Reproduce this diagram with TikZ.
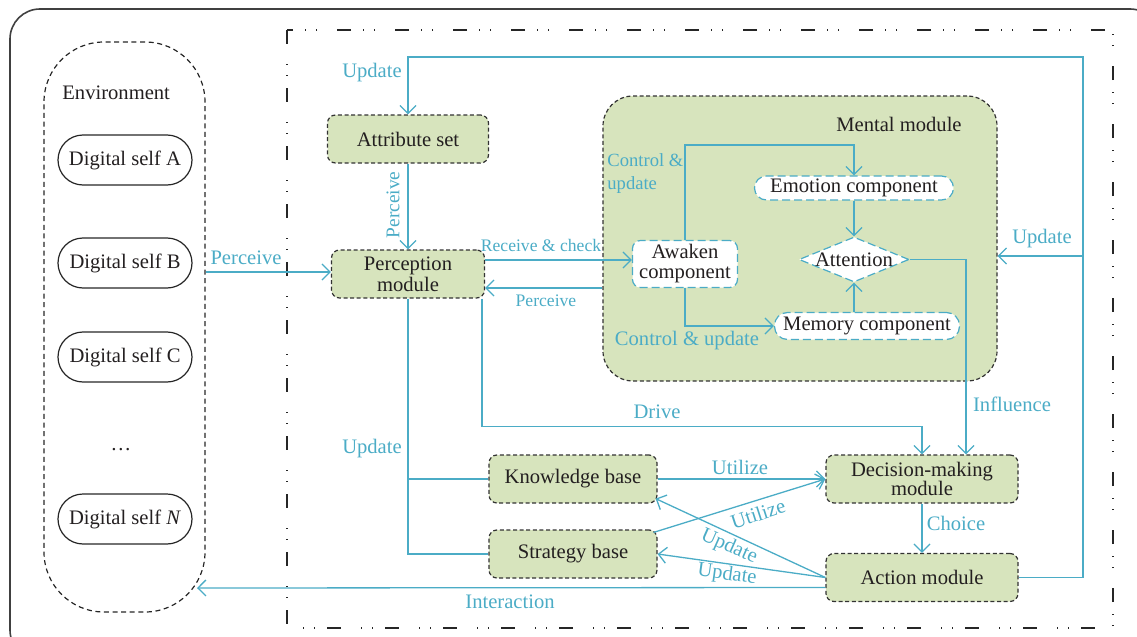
\documentclass[tikz,border=0pt]{standalone}
\usepackage{fontspec}
\setmainfont{Liberation Serif}
\usetikzlibrary{arrows.meta,shapes.geometric}
\definecolor{cblue}{HTML}{4BACC6}
\definecolor{cgreen}{HTML}{D7E4BD}
\definecolor{ctext}{HTML}{231F20}
\newcommand\fsmain{\fontsize{10.3}{11}\selectfont}
\newcommand\fslab{\fontsize{10.3}{11}\selectfont}
\newcommand\fssmall{\fontsize{8.8}{10}\selectfont}
\newcommand\fsmid{\fontsize{9.3}{11.5}\selectfont}
\tikzset{
  bl/.style={draw=cblue, line width=0.65pt},
  arr/.style={bl, -{Straight Barb[length=4pt,width=8pt]}},
  gbox/.style={draw=black!80, line width=0.6pt, dash pattern=on 2pt off 1.3pt, fill=cgreen, rounded corners=4pt, inner sep=0pt, align=center, font=\fsmain, text=ctext},
  wbox/.style={draw=cblue, line width=0.6pt, dash pattern=on 4pt off 2pt, fill=white, inner sep=0pt, align=center, font=\fsmain, text=ctext},
  dself/.style={draw=black!85, line width=0.6pt, rounded corners=12.5pt, minimum width=67pt, minimum height=25pt, inner sep=0pt, font=\fsmain, text=ctext},
  lab/.style={text=cblue, font=\fslab, inner sep=0pt},
  slab/.style={text=cblue, font=\fssmall, inner sep=0pt},
  blk/.style={text=ctext, font=\fsmain, inner sep=0pt},
}
\begin{document}
\begin{tikzpicture}[x=0.5pt,y=-0.5pt]
\useasboundingbox (0,0) rectangle (1137,637);
\clip (0,0) rectangle (1137,637);
% frames
\draw[black!75, line width=0.8pt, rounded corners=15pt] (10,9) rectangle (1160,660);
\draw[black!85, line width=0.75pt, dash pattern=on 7pt off 10pt on 0.6pt off 5pt on 0.6pt off 5.8pt] (287,30) rectangle (1113,628);
% environment
\node[draw=black!85, line width=0.6pt, dash pattern=on 2.5pt off 1.8pt, rounded corners=30pt, minimum width=80.5pt, minimum height=285pt, inner sep=0pt] (env) at (124.5,327) {};
\node[blk, anchor=west] (envt) at (62,93) {Environment};
\node[dself] (dsa) at (125,160) {Digital self A};
\node[dself] (dsb) at (125,263) {Digital self B};
\node[dself] (dsc) at (125,357) {Digital self C};
\node[blk] (dots) at (121,450) {\dots};
\node[dself] (dsn) at (125,519) {Digital self \textit{N}};
\coordinate (envi) at (197,588);
% mental module
\node[gbox, rounded corners=15pt, minimum width=197pt, minimum height=142.5pt] (mental) at (800,238.5) {};
\node[blk, anchor=east] (mentt) at (962,124) {Mental module};
\node[wbox, rounded corners=4pt, minimum width=52.5pt, minimum height=23.5pt] (awk) at (685,264) {Awaken\\[-1pt]component};
\node[wbox, rounded corners=6pt, minimum width=99.5pt, minimum height=12pt] (emo) at (854,188) {Emotion component};
\node[wbox, rounded corners=6.5pt, minimum width=92.5pt, minimum height=13.5pt] (mem) at (867,326) {Memory component};
\node[wbox, diamond, minimum width=55pt, minimum height=22.5pt] (att) at (854,259.5) {};
\node[blk] (attt) at (att.center) {Attention};
% other modules
\node[gbox, minimum width=80.5pt, minimum height=24pt] (attr) at (408,139) {Attribute set};
\node[gbox, minimum width=76.5pt, minimum height=24pt] (perc) at (408,274) {Perception\\[-0.5pt]module};
\node[gbox, minimum width=84pt, minimum height=24pt] (kb) at (573,479) {Knowledge base};
\node[gbox, minimum width=84pt, minimum height=24pt] (sb) at (573,554) {Strategy base};
\node[gbox, minimum width=96pt, minimum height=24pt] (dec) at (922,479) {Decision-making\\[-1.5pt]module};
\node[gbox, minimum width=96pt, minimum height=24pt] (act) at (922,577.5) {Action module};
\coordinate (tr) at (1083,57);
\coordinate (br) at (1083,256);
% connectors
\draw[arr] (env.east |- 0,272) -- (perc.west |- 0,272);
\draw[arr] (act.east) -| (tr) -| (attr.north);
\draw[arr] (br) -- (br -| mental.east);
\draw[arr] (attr) -- (perc);
\draw[arr] ([yshift=7pt]perc.east) -- ([yshift=7pt]perc.east -| awk.west);
\draw[arr] ([yshift=-7pt]perc.east -| mental.west) -- ([yshift=-7pt]perc.east);
\draw[arr] (awk.north) -- ++(0,-95) -| (emo.north);
\draw[arr] (awk.south) |- (mem.west);
\draw[arr] (emo.south) -- (att.north);
\draw[arr] (att.south |- mem.north) -- (att.south);
\draw[arr] (att.east) -| ([xshift=22pt]dec.north);
\draw[arr] ([xshift=37pt]perc.south) -- ++(0,128) -| (dec.north);
\draw[bl] (perc.south) |- (kb.west);
\draw[bl] (perc.south) |- (sb.west);
\draw[arr] (kb.east) -- (kb.east -| dec.west);
\draw[arr] ([xshift=-2pt,yshift=-1.5pt]sb.north east) -- (dec.west);
\draw[arr] (act.west) -- ([xshift=-1pt,yshift=2.5pt]kb.south east);
\draw[arr] (act.west) -- (sb.east);
\draw[arr] ([yshift=-5pt]act.west) -- (envi);
\draw[arr] (dec) -- (act);
% labels
\node[lab] (l1) at (246,258) {Perceive};
\node[lab] (l2) at (372,73) {Update};
\node[lab, rotate=90, font=\fontsize{9.7}{11}\selectfont] (l3) at (393,205) {Perceive};
\node[slab] (l4) at (541,245) {Receive \& check};
\node[slab] (l5) at (546,301) {Perceive};
\node[lab, font=\fsmid, align=left, anchor=west] (l6) at (607,173.5) {Control \&\\update};
\node[lab] (l7) at (687,341) {Control \& update};
\node[lab] (l8) at (1012,404) {Influence};
\node[lab] (l9) at (657,412) {Drive};
\node[lab] (l10) at (372,449) {Update};
\node[lab] (l11) at (740,467) {Utilize};
\node[lab, rotate=18] (l12) at (758,514) {Utilize};
\node[lab, rotate=-24] (l13) at (729,547) {Update};
\node[lab, rotate=-8] (l14) at (727,575) {Update};
\node[lab] (l15) at (956,523) {Choice};
\node[lab] (l16) at (510,602) {Interaction};
\node[lab] (l17) at (1042,239) {Update};
\end{tikzpicture}
\end{document}
